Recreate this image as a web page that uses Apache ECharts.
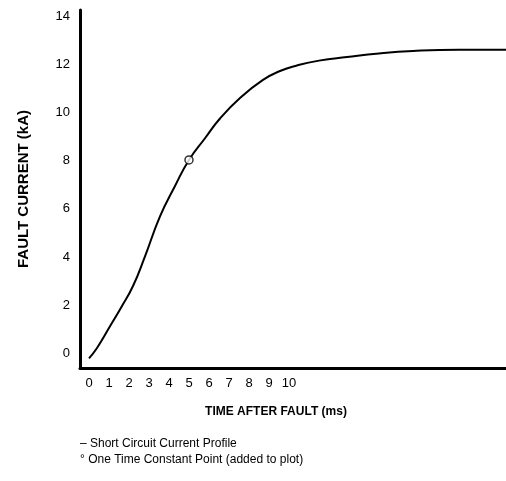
<!DOCTYPE html>
<html>
<head>
<meta charset="utf-8">
<script src="https://cdn.jsdelivr.net/npm/echarts@6/dist/echarts.min.js"></script>
<style>
  html, body { margin: 0; padding: 0; background: #fff; }
  #chart { width: 506px; height: 481px; }
</style>
</head>
<body>
<div id="chart"></div>
<script>
var chart = echarts.init(document.getElementById('chart'));

// short circuit current profile
var timeMs = [0, 0.4, 1.05, 1.6, 2.2, 2.8, 3.55, 4.3, 5.0, 5.8, 6.55, 7.55, 8.7, 9.55, 10.4, 11.5, 12.9, 14.5, 16.2, 18.5, 20.85];
var currentKA = [-0.2, 0.23, 1.13, 1.9, 2.8, 4.03, 5.69, 6.95, 8.03, 8.93, 9.75, 10.6, 11.35, 11.72, 11.95, 12.15, 12.3, 12.45, 12.55, 12.6, 12.6];
// one time constant point
var tcPoint = [5.0, 8.03];
var xTicks = [0, 1, 2, 3, 4, 5, 6, 7, 8, 9, 10];
var yTicks = [0, 2, 4, 6, 8, 10, 12, 14];

var profile = timeMs.map(function (t, i) { return [t, currentKA[i]]; });
var font = 'Liberation Sans, Arial, sans-serif';

var option = {
    animation: false,
    grid: { left: 80, right: 0, top: 10, bottom: 113 },
    xAxis: {
        type: 'value',
        min: -0.45,
        max: 20.85,
        name: 'TIME AFTER FAULT (ms)',
        nameLocation: 'middle',
        nameGap: 38,
        nameTextStyle: { color: '#000', fontWeight: 'bold', fontSize: 12, fontFamily: font, padding: [0, 34, 0, 0] },
        axisLine: { onZero: false, lineStyle: { color: '#000', width: 3 } },
        axisTick: { show: false },
        splitLine: { show: false },
        axisLabel: {
            customValues: xTicks,
            color: '#000', fontSize: 13, fontFamily: font, margin: 9
        }
    },
    yAxis: {
        type: 'value',
        min: -0.6,
        max: 14.25,
        name: 'FAULT CURRENT (kA)',
        nameLocation: 'middle',
        nameGap: 49,
        nameTextStyle: { color: '#000', fontWeight: 'bold', fontSize: 15, fontFamily: font },
        axisLine: { show: true, onZero: false, lineStyle: { color: '#000', width: 3 } },
        axisTick: { show: false },
        splitLine: { show: false },
        axisLabel: {
            customValues: yTicks,
            color: '#000', fontSize: 13, fontFamily: font, margin: 10
        }
    },
    graphic: [
        { type: 'text', left: 80, top: 438, style: { text: '\u2013 Short Circuit Current Profile', fill: '#000', font: '12px ' + font } },
        { type: 'text', left: 80, top: 454, style: { text: '\u00b0 One Time Constant Point (added to plot)', fill: '#000', font: '12px ' + font } }
    ],
    series: [
        {
            name: 'Short Circuit Current Profile',
            type: 'line',
            smooth: 0.5,
            symbol: 'none',
            lineStyle: { color: '#000', width: 2 },
            data: profile
        },
        {
            name: 'One Time Constant Point',
            type: 'scatter',
            symbol: 'circle',
            symbolSize: 8,
            itemStyle: { color: '#fff', borderColor: '#000', borderWidth: 1.5 },
            z: 5,
            data: [tcPoint]
        }
    ]
};
chart.setOption(option);
</script>
</body>
</html>
